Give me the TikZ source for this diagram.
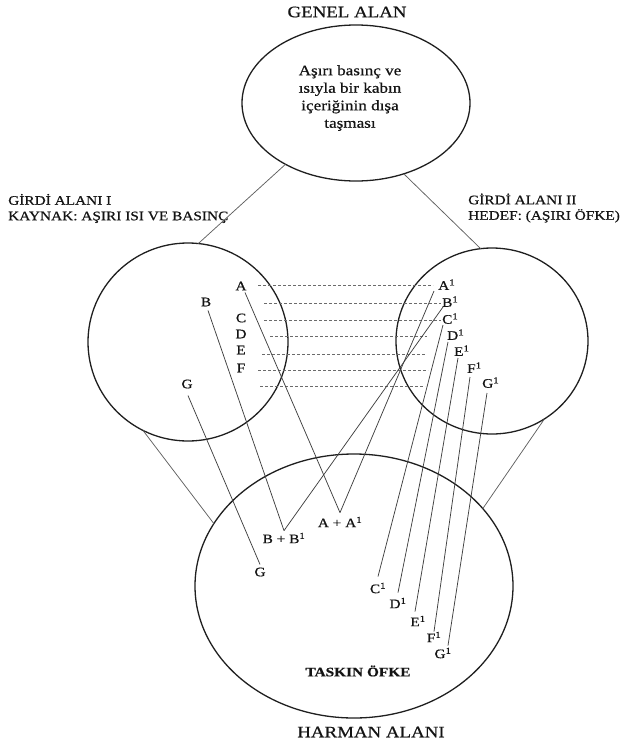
\documentclass[tikz,border=0pt]{standalone}
\usepackage{fontspec}
\setmainfont{Liberation Serif}[FakeStretch=1.18,FakeBold=0.6]
\usetikzlibrary{shapes.geometric}
\begin{document}
\begin{tikzpicture}[x=1pt,y=-1pt,
  area/.style={draw=black!88, line width=1.3pt, ellipse, inner sep=0pt, outer sep=0pt},
  link/.style={draw=black!62, line width=0.75pt},
  map/.style={draw=black!75, line width=0.75pt},
  guide/.style={draw=black!58, line width=0.55pt, dash pattern=on 3pt off 2pt},
  lbl/.style={inner sep=0pt, text=black!92, font=\fontsize{13}{15}\selectfont},
  title/.style={inner sep=0pt, text=black!92, font=\fontsize{16}{19}\selectfont},
  sub/.style={inner sep=0pt, text=black!92, font=\fontsize{13}{15.5}\selectfont},
  body/.style={inner sep=0pt, text=black!92, font=\fontsize{14.5}{17.5}\selectfont}
]
\useasboundingbox (0,0) rectangle (627,742);

% areas
\node[area, minimum width=228pt, minimum height=156pt] (genel) at (356,103) {};
\node[area, minimum width=200pt, minimum height=198pt] (girdi1) at (188,342) {};
\node[area, minimum width=192pt, minimum height=186pt] (girdi2) at (492,341) {};
\node[area, minimum width=318pt, minimum height=264pt] (harman) at (354,586) {};

% titles and texts
\node[title] (tgenel) at (347,12) {GENEL ALAN};
\node[body, align=center] (tic) at (350,98) {Aşırı basınç ve\\ısıyla bir kabın\\içeriğinin dışa\\taşması};
\node[sub, align=left, anchor=west] (tg1) at (8,208.5) {GİRDİ ALANI I\\KAYNAK: AŞIRI ISI VE BASINÇ};
\node[sub, align=left, anchor=west] (tg2) at (468,208) {GİRDİ ALANI II\\HEDEF: (AŞIRI ÖFKE)};
\node[title] (tharman) at (371,732) {HARMAN ALANI};
\node[lbl, font=\bfseries\fontsize{13}{15}\selectfont] (taskin) at (358,671) {TASKIN ÖFKE};

% connectors between areas
\draw[link] (genel.221) -- (girdi1.84);
\draw[link] (genel.304) -- (girdi2.97);
\draw[link] (girdi1.243) -- (harman.156);
\draw[link] (girdi2.304) -- (harman.31);

% left labels
\node[lbl] (A) at (241,286) {A};
\node[lbl] (B) at (206,302) {B};
\node[lbl] (C) at (241,318) {C};
\node[lbl] (D) at (241,334) {D};
\node[lbl] (E) at (241,350) {E};
\node[lbl] (F) at (241,368) {F};
\node[lbl] (G) at (187,384) {G};

% right labels
\node[lbl, anchor=south west] (A1) at (438,290) {A\textsuperscript{1}};
\node[lbl, anchor=south west] (B1) at (442,307) {B\textsuperscript{1}};
\node[lbl, anchor=south west] (C1) at (442,324) {C\textsuperscript{1}};
\node[lbl, anchor=south west] (D1) at (447,340) {D\textsuperscript{1}};
\node[lbl, anchor=south west] (E1) at (454,356) {E\textsuperscript{1}};
\node[lbl, anchor=south west] (F1) at (467,373) {F\textsuperscript{1}};
\node[lbl, anchor=south west] (G1) at (482,388) {G\textsuperscript{1}};

% blend labels
\node[lbl] (AA) at (340,522) {A + A\textsuperscript{1}};
\node[lbl] (BB) at (284,538) {B + B\textsuperscript{1}};
\node[lbl] (Gb) at (260,572) {G};
\node[lbl] (C1b) at (378,588) {C\textsuperscript{1}};
\node[lbl] (D1b) at (398,603) {D\textsuperscript{1}};
\node[lbl] (E1b) at (418,621) {E\textsuperscript{1}};
\node[lbl] (F1b) at (434,637) {F\textsuperscript{1}};
\node[lbl] (G1b) at (443,653) {G\textsuperscript{1}};

% dashed correspondences
\draw[guide] (258,285) -- (433,285);
\draw[guide] (264,303) -- (441,303);
\draw[guide] (264,320) -- (441,320);
\draw[guide] (270,336) -- (427,336);
\draw[guide] (262,354) -- (425,354);
\draw[guide] (258,370) -- (428,370);
\draw[guide] (260,386) -- (425,386);

% projection lines
\draw[map] ([xshift=4pt,yshift=-2pt]A.south) -- ([yshift=4pt]AA.north);
\draw[map] ([xshift=-4pt,yshift=-1pt]A1.south west) -- ([yshift=4pt]AA.north);
\draw[map] ([xshift=2pt,yshift=-4pt]B.south) -- ([yshift=2pt]BB.north);
\draw[map] ([xshift=1pt]B1.south west) -- ([yshift=2pt]BB.north);
\draw[map] ([xshift=1pt,yshift=-7pt]G.south) -- ([yshift=3pt]Gb.north);
\draw[map] ([xshift=1pt,yshift=-1pt]C1.south west) -- ([yshift=6pt]C1b.north);
\draw[map] ([xshift=1pt,yshift=-2pt]D1.south west) -- ([yshift=5pt]D1b.north);
\draw[map] ([xshift=4pt,yshift=-2pt]E1.south west) -- ([xshift=-3pt,yshift=4pt]E1b.north);
\draw[map] ([xshift=3pt,yshift=-4pt]F1.south west) -- (F1b.north);
\draw[map] ([xshift=5pt,yshift=-5pt]G1.south west) -- ([xshift=5pt,yshift=2pt]G1b.north);
\end{tikzpicture}
\end{document}
